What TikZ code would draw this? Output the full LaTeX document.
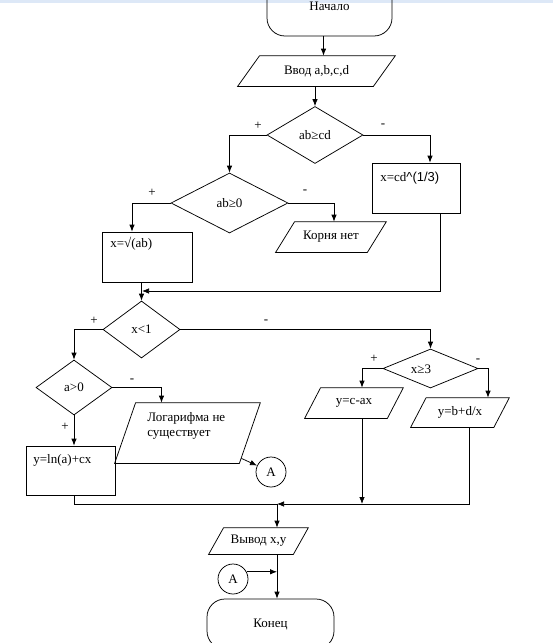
\documentclass[tikz,border=0pt]{standalone}
\usepackage{fontspec}
\setmainfont{Liberation Serif}
\newfontfamily\arialfont{Liberation Sans}
\usetikzlibrary{shapes,arrows,arrows.meta,positioning,calc}
\definecolor{topstrip}{RGB}{221,232,247}
% slanted frame round an io box: node name, slant
\newcommand{\ioframe}[2]{\draw ([xshift=#2pt]#1.north west) -- (#1.north east)
    -- ([xshift=-#2pt]#1.south east) -- (#1.south west) -- cycle;}

\begin{document}
\begin{tikzpicture}[x=1pt, y=-1pt, >={Latex[length=7pt,width=5.5pt]}, line width=0.75pt,
    every node/.style={font=\fontsize{13}{15}\selectfont},
    term/.style={draw, rounded corners=18pt, minimum width=125pt, minimum height=60pt, inner sep=0pt},
    cond/.style={draw, diamond, aspect=1.6, inner sep=0pt},
    proc/.style={draw, rectangle, inner sep=0pt},
    io/.style={rectangle, inner sep=0pt},
    txt/.style={inner sep=0pt},
    conn/.style={draw, circle, minimum size=30pt, inner sep=0pt}]
    % Page
    \fill[white] (0,0) rectangle (553,643);
    \fill[topstrip] (0,0) rectangle (553,3);
    \useasboundingbox (0,0) rectangle (553,643);

    % Start and input
    \node[term] (nach) at (329.5,6) {Начало};
    \node[io, minimum width=157pt, minimum height=30pt] (vvod) at (316.5,71) {Ввод a,b,c,d};
    \ioframe{vvod}{22}

    % First condition
    \node[cond, minimum width=96pt, minimum height=57pt] (d1) at (315,135) {ab≥cd};
    \node[txt] (s1) at (258,126) {+};
    \node[txt] (s2) at (383,126) {-};

    % Cube root branch
    \node[proc, minimum width=88pt, minimum height=50pt] (r1) at (416,188) {};
    \node[txt, anchor=west] (r1t) at (380,178) {x=cd{\arialfont\textasciicircum(1/3)}};

    % Square root branch
    \node[cond, minimum width=117pt, minimum height=60pt] (d2) at (229.5,203) {ab≥0};
    \node[txt] (s3) at (152,193) {+};
    \node[txt] (s4) at (305,192) {-};
    \node[proc, minimum width=90pt, minimum height=50pt] (r2) at (147,257) {};
    \node[txt, anchor=west] (r2t) at (110,244) {x=√(ab)};
    \node[io, minimum width=110pt, minimum height=30pt] (p2) at (331,237) {Корня нет};
    \ioframe{p2}{19}
    \coordinate (m1) at (142,291);

    % Second condition
    \node[cond, minimum width=77pt, minimum height=57pt] (d3) at (141.5,329.5) {x<1};
    \node[txt] (s5) at (94,321) {+};
    \node[txt] (s6) at (266,322) {-};

    % Logarithm branch
    \node[cond, minimum width=76pt, minimum height=55pt] (d4) at (74,387.5) {a>0};
    \node[txt] (s7) at (132,381) {-};
    \node[txt] (s8) at (65,427) {+};
    \node[io, minimum width=145pt, minimum height=60pt] (p3) at (187.5,433) {};
    \ioframe{p3}{21}
    \node[txt, anchor=north west, align=left] (p3t) at (147,412) {Логарифма не\\существует};
    \node[conn] (A1) at (271,472) {A};
    \node[proc, minimum width=89pt, minimum height=49pt] (r3) at (70.5,470.5) {};
    \node[txt, anchor=west] (r3t) at (33,460) {y=ln(a)+cx};

    % Third condition
    \node[cond, minimum width=95pt, minimum height=39pt] (d5) at (430.5,368.5) {};
    \node[txt] (d5t) at (421,369) {x≥3};
    \node[txt] (s9) at (374,359) {+};
    \node[txt] (s10) at (478,361) {-};
    \node[io, minimum width=98pt, minimum height=30pt] (p4) at (354,403) {y=c-ax};
    \ioframe{p4}{16}
    \node[io, minimum width=98pt, minimum height=29pt] (p5) at (460,412.5) {y=b+d/x};
    \ioframe{p5}{15.5}
    \coordinate (m2) at (277,504);

    % Output and end
    \node[io, minimum width=99pt, minimum height=26pt] (p6) at (258.5,541) {Вывод x,y};
    \ioframe{p6}{15}
    \node[conn] (A2) at (233,579) {A};
    \node[term, minimum width=127pt, minimum height=50pt] (kon) at (270.5,624) {Конец};

    % Connectors
    \draw[->] ([xshift=-6pt]nach.south) -- ([xshift=-6pt]nach.south |- vvod.north);
    \draw[->] (vvod.south -| d1.north) -- (d1.north);
    \draw[->] (d1.west) -| (d2.north);
    \draw[->] (d1.east) -| ([xshift=14pt]r1.north);
    \draw[->] (d2.west) -| ([xshift=-15pt]r2.north);
    \draw[->] (d2.east) -| ([xshift=3pt]p2.north);
    \draw[->] (r2.south -| d3.north) -- (d3.north);
    \draw[->] ([xshift=24pt]r1.south) |- (m1);
    \draw[->] (d3.west) -| (d4.north);
    \draw[->] (d3.east) -| (d5.north);
    \draw[->] (d4.east) -| ([xshift=-26pt]p3.north);
    \draw[->] (d4.south) -- (d4.south |- r3.north);
    \draw[->] ([xshift=-19pt,yshift=5pt]p3.south east) -- (A1);
    \draw[->] (d5.west) -| ([xshift=8pt]p4.north);
    \draw[->] (d5.east) -| ([xshift=28pt]p5.north);
    \draw (d4.south |- r3.south) |- (m2);
    \draw[->] ([xshift=8pt]p4.south) -- ([xshift=8pt]p4.south |- m2);
    \draw[->] ([xshift=9pt]p5.south) |- (m2);
    \draw[->] (m2) -- (m2 |- p6.north);
    \draw[->] (p6.south -| m2) -- (m2 |- kon.north);
    \draw[->] (A2.28) -- (A2.28 -| m2);
\end{tikzpicture}
\end{document}
